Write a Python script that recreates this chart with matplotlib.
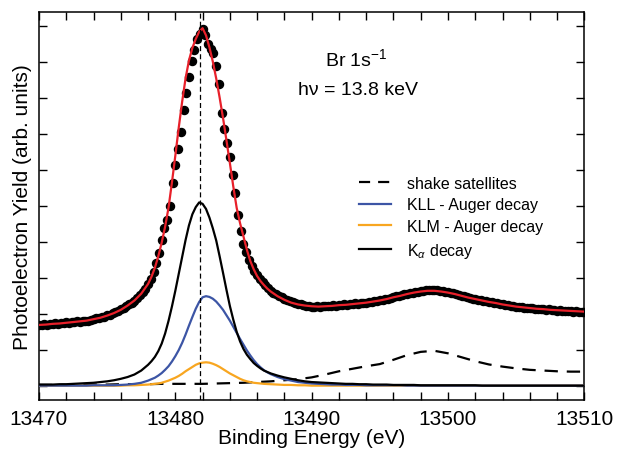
import numpy as np
import matplotlib
matplotlib.use('Agg')
import matplotlib.pyplot as plt
from matplotlib.lines import Line2D

plt.rcParams['font.family'] = ['Liberation Sans', 'DejaVu Sans']
plt.rcParams['mathtext.fontset'] = 'custom'
plt.rcParams['mathtext.rm'] = 'Liberation Sans'
plt.rcParams['mathtext.it'] = 'Liberation Sans:italic'

# measured spectrum, one point every 0.2 eV
data_energy = np.linspace(13470, 13510, 201)
data_yield = [
    1.70, 1.69, 1.71, 1.70, 1.72, 1.71, 1.73, 1.72, 1.74, 1.73,
    1.76, 1.75, 1.77, 1.76, 1.79, 1.78, 1.80, 1.81, 1.80, 1.83,
    1.85, 1.87, 1.88, 1.91, 1.92, 1.96, 1.98, 2.02, 2.04, 2.08,
    2.12, 2.16, 2.21, 2.26, 2.31, 2.37, 2.44, 2.51, 2.60, 2.70,
    2.83, 2.98, 3.16, 3.40, 3.68, 4.05, 4.40, 4.62, 5.00, 5.65,
    6.15, 6.58, 7.05, 7.68, 8.15, 8.60, 9.05, 9.35, 9.65, 9.80,
    9.92, 9.75, 9.50, 9.38, 9.25, 8.91, 8.40, 7.60, 7.15, 6.75,
    6.36, 5.85, 5.35, 4.75, 4.30, 3.95, 3.72, 3.50, 3.33, 3.20,
    3.07, 2.97, 2.88, 2.80, 2.73, 2.64, 2.59, 2.54, 2.50, 2.46,
    2.42, 2.39, 2.36, 2.33, 2.31, 2.28, 2.26, 2.24, 2.23, 2.21,
    2.20, 2.19, 2.21, 2.20, 2.22, 2.21, 2.23, 2.22, 2.24, 2.23,
    2.25, 2.24, 2.26, 2.25, 2.27, 2.27, 2.29, 2.28, 2.30, 2.31,
    2.31, 2.33, 2.34, 2.35, 2.36, 2.38, 2.39, 2.41, 2.42, 2.45,
    2.46, 2.49, 2.50, 2.53, 2.54, 2.56, 2.58, 2.59, 2.61, 2.62,
    2.64, 2.63, 2.66, 2.65, 2.66, 2.65, 2.66, 2.63, 2.63, 2.61,
    2.60, 2.58, 2.57, 2.54, 2.53, 2.50, 2.49, 2.46, 2.45, 2.42,
    2.41, 2.39, 2.38, 2.35, 2.35, 2.32, 2.32, 2.29, 2.29, 2.26,
    2.26, 2.24, 2.24, 2.21, 2.21, 2.20, 2.18, 2.19, 2.16, 2.17,
    2.15, 2.15, 2.13, 2.14, 2.12, 2.13, 2.11, 2.12, 2.10, 2.11,
    2.09, 2.10, 2.08, 2.09, 2.07, 2.08, 2.06, 2.07, 2.05, 2.06,
    2.06,
]

# fit and its components: 0.5 eV steps, 0.25 eV steps across the main line
fit_energy = np.concatenate([np.arange(13470, 13478, 0.5),
                             np.arange(13478, 13487, 0.25),
                             np.arange(13487, 13510.01, 0.5)])
fit_total = [
    1.69, 1.70, 1.72, 1.73, 1.75, 1.77, 1.79, 1.81,
    1.85, 1.89, 1.95, 2.02, 2.11, 2.23, 2.37, 2.56,
    2.83, 3.03, 3.28, 3.60, 3.98, 4.42, 4.95, 5.65,
    6.40, 7.18, 7.90, 8.55, 9.05, 9.40, 9.65, 9.85,
    9.95, 9.75, 9.42, 9.02, 8.55, 8.02, 7.45, 6.83,
    6.20, 5.55, 4.95, 4.52, 4.15, 3.78, 3.47, 3.24,
    3.05, 2.91, 2.80, 2.70,
    2.62, 2.49, 2.39, 2.31, 2.26, 2.23,
    2.21, 2.20, 2.21, 2.22, 2.24, 2.25, 2.27, 2.29, 2.31, 2.34,
    2.37, 2.41, 2.46, 2.50, 2.55, 2.59, 2.62, 2.64, 2.64, 2.62,
    2.59, 2.55, 2.50, 2.45, 2.41, 2.37, 2.33, 2.30, 2.26, 2.23,
    2.20, 2.18, 2.16, 2.14, 2.13, 2.11, 2.10, 2.09, 2.08, 2.07,
    2.06,
]
k_alpha = [
    0.03, 0.03, 0.03, 0.04, 0.04, 0.05, 0.06, 0.07,
    0.08, 0.10, 0.12, 0.15, 0.19, 0.24, 0.31, 0.42,
    0.58, 0.68, 0.80, 0.96, 1.17, 1.45, 1.80, 2.20,
    2.64, 3.11, 3.58, 4.05, 4.46, 4.77, 4.97, 5.10,
    5.06, 4.92, 4.68, 4.38, 4.04, 3.60, 3.14, 2.67,
    2.22, 1.84, 1.50, 1.23, 1.02, 0.86, 0.74, 0.63,
    0.55, 0.48, 0.42, 0.38,
    0.34, 0.28, 0.23, 0.19, 0.15, 0.12,
    0.10, 0.09, 0.08, 0.07, 0.06, 0.05, 0.05, 0.04, 0.04, 0.03,
    0.03, 0.03, 0.02, 0.02, 0.02, 0.02, 0.01, 0.01, 0.01, 0.01,
    0.01, 0.01, 0.01, 0.01, 0.01, 0.00, 0.00, 0.00, 0.00, 0.00,
    0.00, 0.00, 0.00, 0.00, 0.00, 0.00, 0.00, 0.00, 0.00, 0.00,
    0.00,
]
kll_auger = [
    0.00, 0.00, 0.00, 0.00, 0.00, 0.00, 0.00, 0.00,
    0.01, 0.01, 0.01, 0.01, 0.02, 0.03, 0.05, 0.08,
    0.14, 0.18, 0.22, 0.28, 0.35, 0.44, 0.54, 0.67,
    0.82, 0.99, 1.19, 1.42, 1.67, 1.91, 2.14, 2.33,
    2.46, 2.49, 2.47, 2.42, 2.34, 2.23, 2.11, 1.96,
    1.81, 1.64, 1.47, 1.30, 1.14, 0.98, 0.84, 0.71,
    0.60, 0.51, 0.43, 0.37,
    0.32, 0.24, 0.18, 0.14, 0.10, 0.08,
    0.06, 0.05, 0.04, 0.03, 0.03, 0.02, 0.02, 0.02, 0.01, 0.01,
    0.01, 0.01, 0.01, 0.01, 0.00, 0.00, 0.00, 0.00, 0.00, 0.00,
    0.00, 0.00, 0.00, 0.00, 0.00, 0.00, 0.00, 0.00, 0.00, 0.00,
    0.00, 0.00, 0.00, 0.00, 0.00, 0.00, 0.00, 0.00, 0.00, 0.00,
    0.00,
]
klm_auger = [
    0.00, 0.00, 0.00, 0.00, 0.00, 0.00, 0.00, 0.00,
    0.00, 0.00, 0.00, 0.00, 0.00, 0.01, 0.01, 0.02,
    0.03, 0.04, 0.05, 0.06, 0.08, 0.11, 0.14, 0.18,
    0.22, 0.27, 0.33, 0.40, 0.46, 0.52, 0.58, 0.62,
    0.64, 0.65, 0.64, 0.61, 0.57, 0.52, 0.46, 0.40,
    0.34, 0.29, 0.24, 0.19, 0.15, 0.12, 0.10, 0.08,
    0.07, 0.06, 0.05, 0.045,
    0.04, 0.03, 0.02, 0.02, 0.01, 0.01,
    0.00, 0.00, 0.00, 0.00, 0.00, 0.00, 0.00, 0.00, 0.00, 0.00,
    0.00, 0.00, 0.00, 0.00, 0.00, 0.00, 0.00, 0.00, 0.00, 0.00,
    0.00, 0.00, 0.00, 0.00, 0.00, 0.00, 0.00, 0.00, 0.00, 0.00,
    0.00, 0.00, 0.00, 0.00, 0.00, 0.00, 0.00, 0.00, 0.00, 0.00,
    0.00,
]

# shake satellites, every 1 eV
shake_energy = np.linspace(13470, 13510, 41)
shake = [
    0.02, 0.02, 0.02, 0.03, 0.03, 0.03, 0.04, 0.04, 0.04, 0.05,
    0.05, 0.05, 0.05, 0.06, 0.07, 0.08, 0.10, 0.12, 0.15, 0.18,
    0.23, 0.31, 0.40, 0.47, 0.54, 0.60, 0.72, 0.85, 0.94, 0.97,
    0.90, 0.79, 0.68, 0.59, 0.53, 0.48, 0.44, 0.42, 0.40, 0.39,
    0.39,
]

peak_position = 13481.8

fig = plt.figure(figsize=(6.17, 4.52), dpi=100)
ax = fig.add_axes([0.0632, 0.1128, 0.8838, 0.8584])

ax.plot(shake_energy, shake, color='black', lw=1.6, dashes=(6, 4), zorder=2)
ax.plot(fit_energy, klm_auger, color='#F8A620', lw=1.6, zorder=3)
ax.plot(fit_energy, kll_auger, color='#3C55A5', lw=1.6, zorder=3)
ax.plot(fit_energy, k_alpha, color='black', lw=1.6, zorder=4)
ax.plot(data_energy, data_yield, 'o', color='black', ms=5.8, zorder=5)
ax.plot(fit_energy, fit_total, color='#E8202A', lw=1.6, zorder=6)
ax.axvline(peak_position, color='black', lw=0.9, dashes=(4, 2.5), zorder=7)

ax.set_xlim(13470, 13510)
ax.set_ylim(-0.4, 10.4)
ax.set_xticks([13470, 13480, 13490, 13500, 13510])
ax.set_xticks(np.arange(13470, 13511, 2), minor=True)
ax.set_yticks(np.arange(0, 11, 1))
ax.tick_params(which='both', direction='in', top=True, right=True,
               width=1.0, length=5.5, labelsize=15, pad=6.5)
ax.tick_params(axis='y', labelleft=False)
for sp in ax.spines.values():
    sp.set_linewidth(1.1)

ax.set_xlabel('Binding Energy (eV)', fontsize=15, labelpad=0)
ax.set_ylabel('Photoelectron Yield (arb. units)', fontsize=15, labelpad=5)

ax.text(13493.3, 8.93, 'Br 1s$^{-1}$', fontsize=14, ha='center', va='baseline')
ax.text(13493.4, 8.12, 'h\u03bd = 13.8 keV', fontsize=14, ha='center', va='baseline')

handles = [
    Line2D([], [], color='black', lw=1.6, dashes=(5, 3.6)),
    Line2D([], [], color='#3C55A5', lw=1.6),
    Line2D([], [], color='#F8A620', lw=1.6),
    Line2D([], [], color='black', lw=1.6),
]
labels = ['shake satellites', 'KLL - Auger decay', 'KLM - Auger decay',
          'K$_\\alpha$ decay']
ax.legend(handles, labels, loc='upper left', bbox_to_anchor=(0.576, 0.595),
          frameon=False, fontsize=11.5, handlelength=2.0, handletextpad=1.0,
          labelspacing=0.42, borderaxespad=0)

fig.savefig('out.png', dpi=100)
